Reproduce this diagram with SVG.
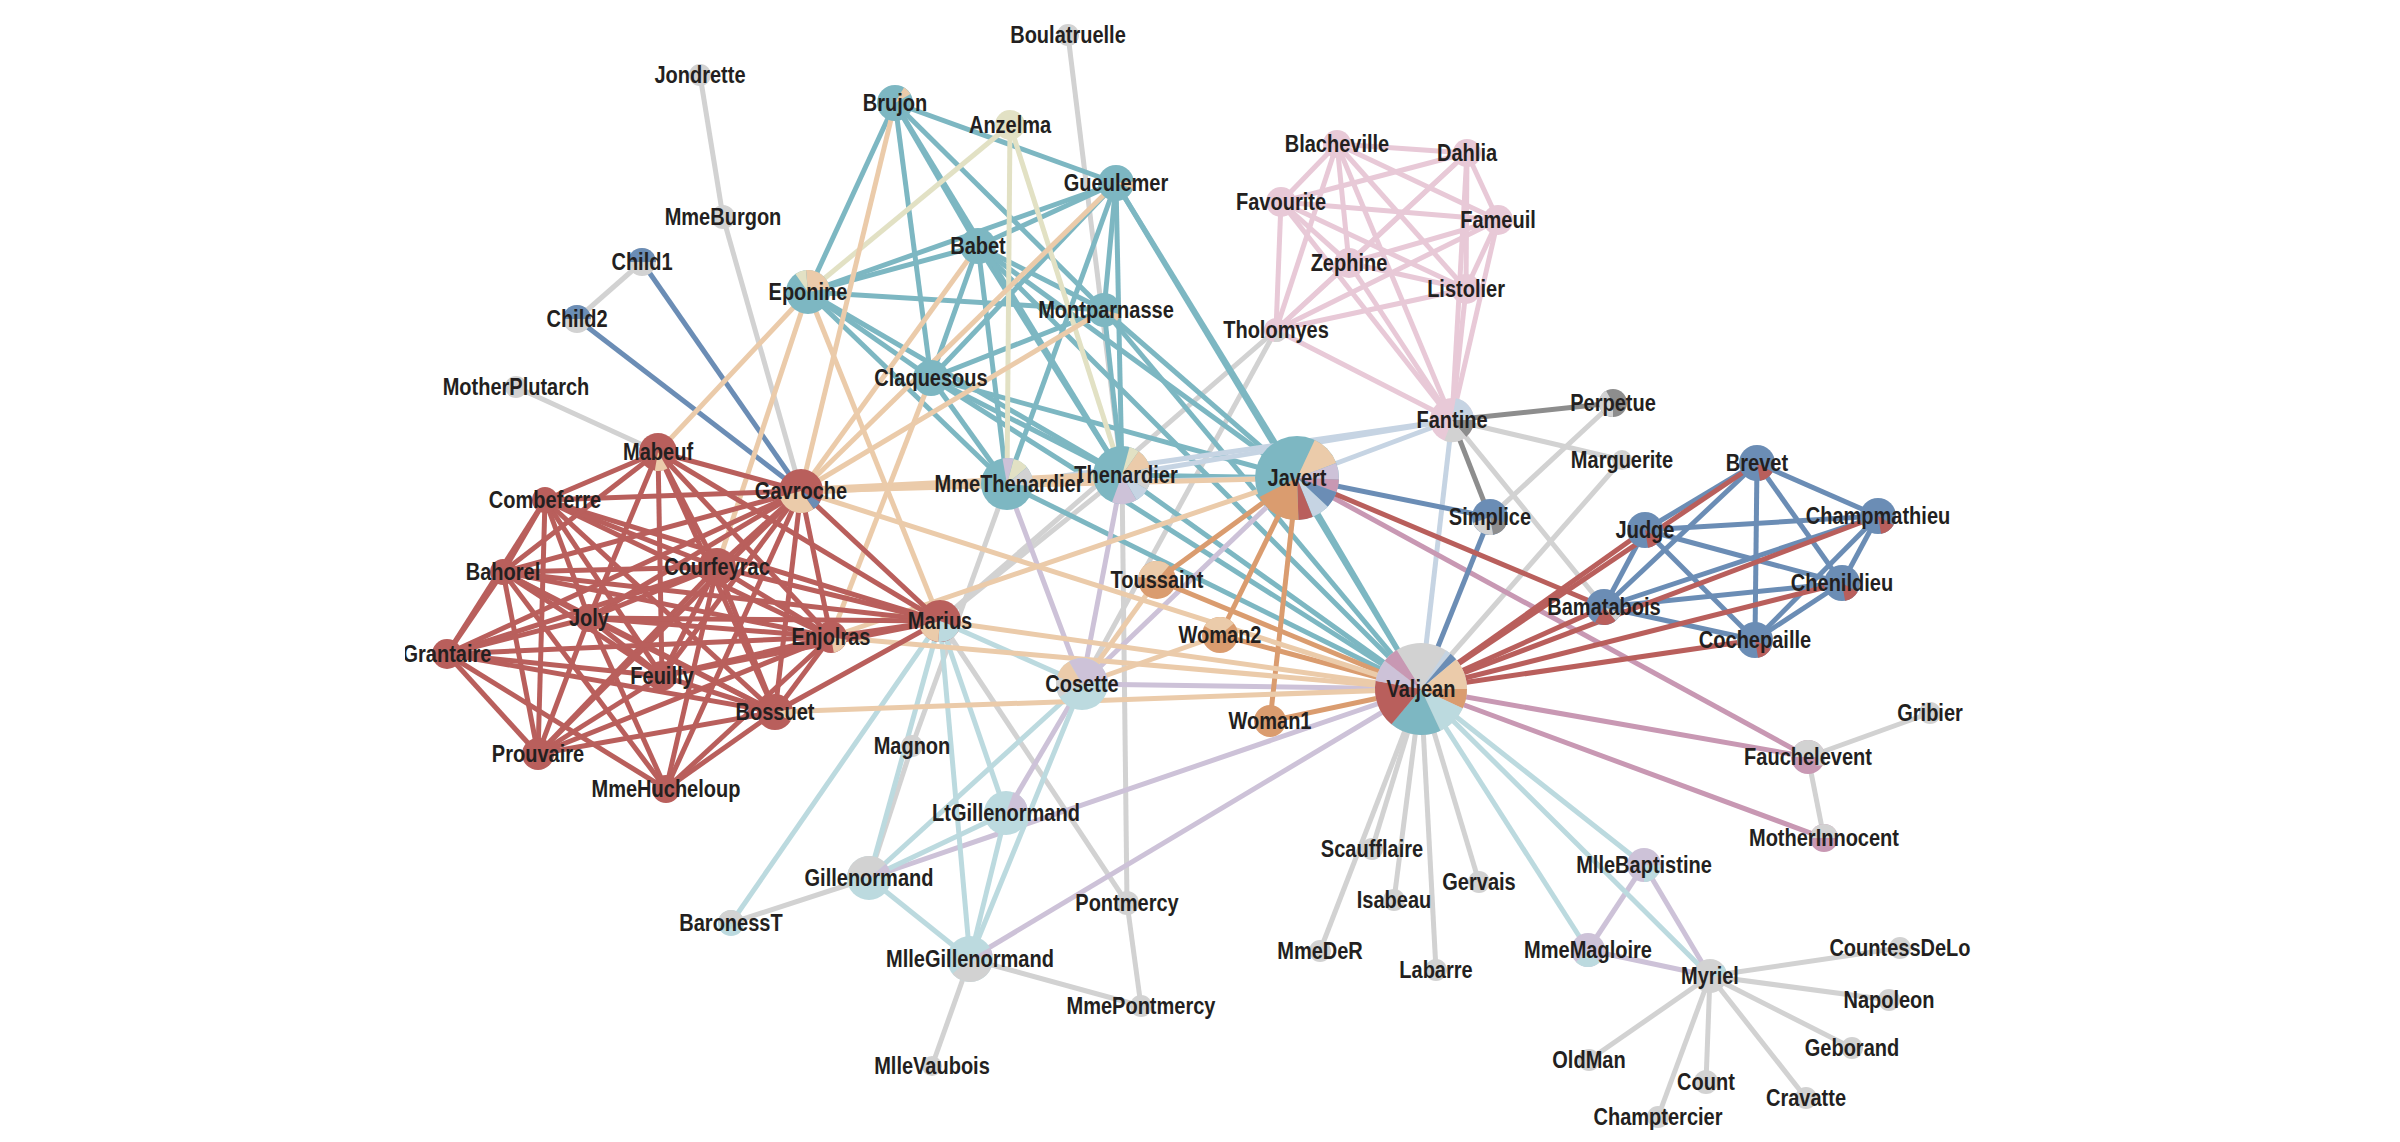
<svg xmlns="http://www.w3.org/2000/svg" width="2400" height="1142" viewBox="0 0 2400 1142">
<defs>
<clipPath id="vp"><rect x="405" y="0" width="1595" height="1142"/></clipPath>
<style>
#links line{stroke-width:5;fill:none}
.eg{stroke:#d2d2d2}.edg{stroke:#8d8d8d}.et{stroke:#7db7c2}.er{stroke:#b95f5c}.ep{stroke:#ebcbaa}.eo{stroke:#da9c6f}.ek{stroke:#e8c9d7}.es{stroke:#c6d4e3}.eb{stroke:#6b8db5}.el{stroke:#cdc2d8}.em{stroke:#c898b3}.elb{stroke:#bcdadf}.ey{stroke:#e2e1c4}
.fg{fill:#d2d2d2}.fdg{fill:#8d8d8d}.ft{fill:#7db7c2}.fr{fill:#b95f5c}.fp{fill:#ebcbaa}.fo{fill:#da9c6f}.fk{fill:#e8c9d7}.fs{fill:#c6d4e3}.fb{fill:#6b8db5}.fl{fill:#cdc2d8}.fm{fill:#c898b3}.flb{fill:#bcdadf}.fy{fill:#e2e1c4}
.pie{fill:none}
text{font-family:"Liberation Sans",Arial,sans-serif;font-weight:700;font-size:23px;fill:#231f20;text-anchor:middle;transform-box:fill-box;transform-origin:center;transform:scaleX(.87)}
</style>
</defs>
<rect width="2400" height="1142" fill="#fff"/>
<g clip-path="url(#vp)">
<g id="links">
<g class="eg">
<line x1="1889" y1="1000" x2="1710" y2="976"/><line x1="1900" y1="948" x2="1710" y2="976"/><line x1="1852" y1="1048" x2="1710" y2="976"/><line x1="1658" y1="1117" x2="1710" y2="976"/><line x1="1806" y1="1098" x2="1710" y2="976"/><line x1="1706" y1="1082" x2="1710" y2="976"/><line x1="1589" y1="1060" x2="1710" y2="976"/>
<line x1="1421" y1="689" x2="1436" y2="970"/><line x1="1622" y1="460" x2="1421" y2="689"/><line x1="1320" y1="951" x2="1421" y2="689"/><line x1="1394" y1="900" x2="1421" y2="689"/><line x1="1479" y1="882" x2="1421" y2="689"/><line x1="1372" y1="849" x2="1421" y2="689"/>
<line x1="1452" y1="420" x2="1622" y2="460"/><line x1="1082" y1="684" x2="1276" y2="330"/><line x1="1604" y1="607" x2="1452" y2="420"/><line x1="1490" y1="517" x2="1613" y2="403"/>
<line x1="1127" y1="903" x2="1122" y2="475"/><line x1="1068" y1="35" x2="1122" y2="475"/><line x1="1824" y1="838" x2="1808" y2="757"/><line x1="1930" y1="713" x2="1808" y2="757"/>
<line x1="723" y1="217" x2="700" y2="75"/><line x1="801" y1="491" x2="723" y2="217"/><line x1="912" y1="746" x2="869" y2="878"/><line x1="912" y1="746" x2="1007" y2="484"/>
<line x1="1141" y1="1006" x2="970" y2="959"/><line x1="1141" y1="1006" x2="1127" y2="903"/><line x1="932" y1="1066" x2="970" y2="959"/>
<line x1="940" y1="621" x2="1127" y2="903"/><line x1="940" y1="621" x2="1276" y2="330"/><line x1="940" y1="621" x2="1122" y2="475"/>
<line x1="731" y1="923" x2="869" y2="878"/><line x1="516" y1="387" x2="658" y2="452"/><line x1="577" y1="319" x2="642" y2="262"/>
</g>
<g class="edg">
<line x1="1613" y1="403" x2="1452" y2="420"/><line x1="1490" y1="517" x2="1452" y2="420"/>
</g>
<g class="ek">
<line x1="1466" y1="289" x2="1276" y2="330"/><line x1="1498" y1="220" x2="1276" y2="330"/><line x1="1498" y1="220" x2="1466" y2="289"/><line x1="1337" y1="144" x2="1276" y2="330"/><line x1="1337" y1="144" x2="1466" y2="289"/><line x1="1337" y1="144" x2="1498" y2="220"/>
<line x1="1281" y1="202" x2="1276" y2="330"/><line x1="1281" y1="202" x2="1466" y2="289"/><line x1="1281" y1="202" x2="1498" y2="220"/><line x1="1281" y1="202" x2="1337" y2="144"/>
<line x1="1467" y1="153" x2="1276" y2="330"/><line x1="1467" y1="153" x2="1466" y2="289"/><line x1="1467" y1="153" x2="1498" y2="220"/><line x1="1467" y1="153" x2="1337" y2="144"/><line x1="1467" y1="153" x2="1281" y2="202"/>
<line x1="1349" y1="263" x2="1276" y2="330"/><line x1="1349" y1="263" x2="1466" y2="289"/><line x1="1349" y1="263" x2="1498" y2="220"/><line x1="1349" y1="263" x2="1337" y2="144"/><line x1="1349" y1="263" x2="1281" y2="202"/><line x1="1349" y1="263" x2="1467" y2="153"/>
<line x1="1452" y1="420" x2="1276" y2="330"/><line x1="1452" y1="420" x2="1466" y2="289"/><line x1="1452" y1="420" x2="1498" y2="220"/><line x1="1452" y1="420" x2="1337" y2="144"/><line x1="1452" y1="420" x2="1281" y2="202"/><line x1="1452" y1="420" x2="1467" y2="153"/><line x1="1452" y1="420" x2="1349" y2="263"/>
</g>
<g class="et">
<line x1="1007" y1="484" x2="1421" y2="689"/><line x1="1122" y1="475" x2="1007" y2="484"/><line x1="1122" y1="475" x2="1421" y2="689"/><line x1="1297" y1="478" x2="1421" y2="689"/><line x1="1297" y1="478" x2="1122" y2="475"/>
<line x1="808" y1="292" x2="1007" y2="484"/><line x1="808" y1="292" x2="1122" y2="475"/>
<line x1="1116" y1="183" x2="1122" y2="475"/><line x1="1116" y1="183" x2="1421" y2="689"/><line x1="1116" y1="183" x2="1007" y2="484"/><line x1="1116" y1="183" x2="1297" y2="478"/><line x1="1116" y1="183" x2="808" y2="292"/>
<line x1="978" y1="246" x2="1122" y2="475"/><line x1="978" y1="246" x2="1116" y2="183"/><line x1="978" y1="246" x2="1421" y2="689"/><line x1="978" y1="246" x2="1007" y2="484"/><line x1="978" y1="246" x2="1297" y2="478"/><line x1="978" y1="246" x2="808" y2="292"/>
<line x1="931" y1="378" x2="1122" y2="475"/><line x1="931" y1="378" x2="978" y2="246"/><line x1="931" y1="378" x2="1116" y2="183"/><line x1="931" y1="378" x2="1421" y2="689"/><line x1="931" y1="378" x2="1007" y2="484"/><line x1="931" y1="378" x2="1297" y2="478"/><line x1="931" y1="378" x2="808" y2="292"/>
<line x1="1104" y1="310" x2="1297" y2="478"/><line x1="1104" y1="310" x2="978" y2="246"/><line x1="1104" y1="310" x2="1116" y2="183"/><line x1="1104" y1="310" x2="931" y2="378"/><line x1="1104" y1="310" x2="1421" y2="689"/><line x1="1104" y1="310" x2="808" y2="292"/><line x1="1104" y1="310" x2="1122" y2="475"/>
<line x1="895" y1="103" x2="978" y2="246"/><line x1="895" y1="103" x2="1116" y2="183"/><line x1="895" y1="103" x2="1122" y2="475"/><line x1="895" y1="103" x2="808" y2="292"/><line x1="895" y1="103" x2="931" y2="378"/><line x1="895" y1="103" x2="1104" y2="310"/>
</g>
<g class="ey">
<line x1="1010" y1="125" x2="808" y2="292"/><line x1="1010" y1="125" x2="1122" y2="475"/><line x1="1010" y1="125" x2="1007" y2="484"/>
</g>
<g class="es">
<line x1="1452" y1="420" x2="1421" y2="689"/><line x1="1007" y1="484" x2="1452" y2="420"/><line x1="1122" y1="475" x2="1452" y2="420"/><line x1="1297" y1="478" x2="1452" y2="420"/><line x1="1297" y1="478" x2="1007" y2="484"/>
</g>
<g class="el">
<line x1="1644" y1="865" x2="1710" y2="976"/><line x1="1588" y1="950" x2="1710" y2="976"/><line x1="1588" y1="950" x2="1644" y2="865"/>
<line x1="1082" y1="684" x2="1007" y2="484"/><line x1="1082" y1="684" x2="1421" y2="689"/><line x1="1082" y1="684" x2="1122" y2="475"/><line x1="1297" y1="478" x2="1082" y2="684"/>
<line x1="869" y1="878" x2="1421" y2="689"/><line x1="970" y1="959" x2="1421" y2="689"/><line x1="1006" y1="813" x2="1082" y2="684"/>
</g>
<g class="elb">
<line x1="1421" y1="689" x2="1588" y2="950"/><line x1="1421" y1="689" x2="1644" y2="865"/><line x1="1421" y1="689" x2="1710" y2="976"/>
<line x1="869" y1="878" x2="1082" y2="684"/><line x1="970" y1="959" x2="869" y2="878"/><line x1="970" y1="959" x2="1082" y2="684"/><line x1="1006" y1="813" x2="970" y2="959"/><line x1="1006" y1="813" x2="869" y2="878"/>
<line x1="940" y1="621" x2="970" y2="959"/><line x1="940" y1="621" x2="869" y2="878"/><line x1="940" y1="621" x2="1006" y2="813"/><line x1="940" y1="621" x2="1082" y2="684"/><line x1="731" y1="923" x2="940" y2="621"/>
</g>
<g class="em">
<line x1="1808" y1="757" x2="1421" y2="689"/><line x1="1808" y1="757" x2="1297" y2="478"/><line x1="1824" y1="838" x2="1421" y2="689"/>
</g>
<g class="eb">
<line x1="1490" y1="517" x2="1421" y2="689"/><line x1="1490" y1="517" x2="1297" y2="478"/>
<line x1="1645" y1="530" x2="1604" y2="607"/><line x1="1878" y1="516" x2="1645" y2="530"/><line x1="1878" y1="516" x2="1604" y2="607"/>
<line x1="1757" y1="463" x2="1645" y2="530"/><line x1="1757" y1="463" x2="1878" y2="516"/><line x1="1757" y1="463" x2="1604" y2="607"/>
<line x1="1842" y1="583" x2="1645" y2="530"/><line x1="1842" y1="583" x2="1878" y2="516"/><line x1="1842" y1="583" x2="1757" y2="463"/><line x1="1842" y1="583" x2="1604" y2="607"/>
<line x1="1755" y1="640" x2="1645" y2="530"/><line x1="1755" y1="640" x2="1878" y2="516"/><line x1="1755" y1="640" x2="1757" y2="463"/><line x1="1755" y1="640" x2="1842" y2="583"/><line x1="1755" y1="640" x2="1604" y2="607"/>
<line x1="642" y1="262" x2="801" y2="491"/><line x1="577" y1="319" x2="801" y2="491"/>
</g>
<g class="eo">
<line x1="1270" y1="721" x2="1421" y2="689"/><line x1="1270" y1="721" x2="1297" y2="478"/><line x1="1220" y1="635" x2="1421" y2="689"/><line x1="1220" y1="635" x2="1297" y2="478"/><line x1="1157" y1="580" x2="1297" y2="478"/><line x1="1157" y1="580" x2="1421" y2="689"/>
</g>
<g class="ep">
<line x1="1220" y1="635" x2="1082" y2="684"/><line x1="1157" y1="580" x2="1082" y2="684"/>
<line x1="801" y1="491" x2="1122" y2="475" style="stroke-width:8"/><line x1="801" y1="491" x2="1297" y2="478"/><line x1="801" y1="491" x2="1421" y2="689"/>
<line x1="940" y1="621" x2="1421" y2="689"/><line x1="940" y1="621" x2="808" y2="292"/><line x1="658" y1="452" x2="808" y2="292"/>
<line x1="831" y1="637" x2="1297" y2="478"/><line x1="831" y1="637" x2="1421" y2="689"/><line x1="775" y1="712" x2="1421" y2="689"/><line x1="717" y1="567" x2="808" y2="292"/>
<line x1="1116" y1="183" x2="801" y2="491"/><line x1="978" y1="246" x2="801" y2="491"/><line x1="931" y1="378" x2="831" y2="637"/><line x1="1104" y1="310" x2="801" y2="491"/><line x1="895" y1="103" x2="801" y2="491"/>
</g>
<g class="er">
<line x1="1604" y1="607" x2="1297" y2="478"/><line x1="1604" y1="607" x2="1421" y2="689"/><line x1="1645" y1="530" x2="1421" y2="689"/><line x1="1878" y1="516" x2="1421" y2="689"/><line x1="1757" y1="463" x2="1421" y2="689"/><line x1="1842" y1="583" x2="1421" y2="689"/><line x1="1755" y1="640" x2="1421" y2="689"/>
<line x1="940" y1="621" x2="801" y2="491"/><line x1="658" y1="452" x2="940" y2="621"/><line x1="658" y1="452" x2="801" y2="491"/>
<line x1="831" y1="637" x2="940" y2="621"/><line x1="831" y1="637" x2="801" y2="491"/><line x1="831" y1="637" x2="658" y2="452"/>
<line x1="545" y1="500" x2="831" y2="637"/><line x1="545" y1="500" x2="940" y2="621"/><line x1="545" y1="500" x2="801" y2="491"/><line x1="545" y1="500" x2="658" y2="452"/>
<line x1="538" y1="754" x2="801" y2="491"/><line x1="538" y1="754" x2="831" y2="637"/><line x1="538" y1="754" x2="545" y2="500"/>
<line x1="662" y1="676" x2="801" y2="491"/><line x1="662" y1="676" x2="831" y2="637"/><line x1="662" y1="676" x2="538" y2="754"/><line x1="662" y1="676" x2="545" y2="500"/><line x1="662" y1="676" x2="658" y2="452"/><line x1="662" y1="676" x2="940" y2="621"/>
<line x1="717" y1="567" x2="940" y2="621"/><line x1="717" y1="567" x2="831" y2="637"/><line x1="717" y1="567" x2="545" y2="500"/><line x1="717" y1="567" x2="801" y2="491"/><line x1="717" y1="567" x2="658" y2="452"/><line x1="717" y1="567" x2="662" y2="676"/><line x1="717" y1="567" x2="538" y2="754"/>
<line x1="503" y1="572" x2="545" y2="500"/><line x1="503" y1="572" x2="801" y2="491"/><line x1="503" y1="572" x2="717" y2="567"/><line x1="503" y1="572" x2="658" y2="452"/><line x1="503" y1="572" x2="831" y2="637"/><line x1="503" y1="572" x2="662" y2="676"/><line x1="503" y1="572" x2="538" y2="754"/><line x1="503" y1="572" x2="940" y2="621"/>
<line x1="775" y1="712" x2="940" y2="621"/><line x1="775" y1="712" x2="717" y2="567"/><line x1="775" y1="712" x2="801" y2="491"/><line x1="775" y1="712" x2="503" y2="572"/><line x1="775" y1="712" x2="831" y2="637"/><line x1="775" y1="712" x2="662" y2="676"/><line x1="775" y1="712" x2="538" y2="754"/><line x1="775" y1="712" x2="545" y2="500"/><line x1="775" y1="712" x2="658" y2="452"/>
<line x1="589" y1="618" x2="503" y2="572"/><line x1="589" y1="618" x2="775" y2="712"/><line x1="589" y1="618" x2="801" y2="491"/><line x1="589" y1="618" x2="717" y2="567"/><line x1="589" y1="618" x2="831" y2="637"/><line x1="589" y1="618" x2="662" y2="676"/><line x1="589" y1="618" x2="538" y2="754"/><line x1="589" y1="618" x2="545" y2="500"/><line x1="589" y1="618" x2="658" y2="452"/><line x1="589" y1="618" x2="940" y2="621"/>
<line x1="447" y1="654" x2="775" y2="712"/><line x1="447" y1="654" x2="831" y2="637"/><line x1="447" y1="654" x2="545" y2="500"/><line x1="447" y1="654" x2="717" y2="567"/><line x1="447" y1="654" x2="589" y2="618"/><line x1="447" y1="654" x2="801" y2="491"/><line x1="447" y1="654" x2="503" y2="572"/><line x1="447" y1="654" x2="662" y2="676"/><line x1="447" y1="654" x2="538" y2="754"/>
<line x1="666" y1="789" x2="775" y2="712"/><line x1="666" y1="789" x2="589" y2="618"/><line x1="666" y1="789" x2="447" y2="654"/><line x1="666" y1="789" x2="503" y2="572"/><line x1="666" y1="789" x2="717" y2="567"/><line x1="666" y1="789" x2="801" y2="491"/><line x1="666" y1="789" x2="831" y2="637"/>
</g>
</g>
<g id="nodes">
<g id="n-Myriel"><circle cx="1710" cy="976" r="17" class="fg"/><circle cx="1710" cy="976" r="8.5" stroke-width="17" class="pie elb" pathLength="100" stroke-dasharray="11.1 200" transform="rotate(-40 1710 976)"/><text x="1710" y="984">Myriel</text></g>
<g id="n-Napoleon"><circle cx="1889" cy="1000" r="11" class="fg"/><text x="1889" y="1008">Napoleon</text></g>
<g id="n-MlleBaptistine"><circle cx="1644" cy="865" r="17" class="fl"/><circle cx="1644" cy="865" r="8.5" stroke-width="17" class="pie elb" pathLength="100" stroke-dasharray="25 200" transform="rotate(0 1644 865)"/><text x="1644" y="873">MlleBaptistine</text></g>
<g id="n-MmeMagloire"><circle cx="1588" cy="950" r="17" class="fl"/><circle cx="1588" cy="950" r="8.5" stroke-width="17" class="pie elb" pathLength="100" stroke-dasharray="25 200" transform="rotate(45 1588 950)"/><text x="1588" y="958">MmeMagloire</text></g>
<g id="n-CountessDeLo"><circle cx="1900" cy="948" r="11" class="fg"/><text x="1900" y="956">CountessDeLo</text></g>
<g id="n-Geborand"><circle cx="1852" cy="1048" r="11" class="fg"/><text x="1852" y="1056">Geborand</text></g>
<g id="n-Champtercier"><circle cx="1658" cy="1117" r="11" class="fg"/><text x="1658" y="1125">Champtercier</text></g>
<g id="n-Cravatte"><circle cx="1806" cy="1098" r="11" class="fg"/><text x="1806" y="1106">Cravatte</text></g>
<g id="n-Count"><circle cx="1706" cy="1082" r="12" class="fg"/><text x="1706" y="1090">Count</text></g>
<g id="n-OldMan"><circle cx="1589" cy="1060" r="11" class="fg"/><text x="1589" y="1068">OldMan</text></g>
<g id="n-Labarre"><circle cx="1436" cy="970" r="11" class="fg"/><text x="1436" y="978">Labarre</text></g>
<g id="n-Valjean"><circle cx="1421" cy="689" r="46" class="fg"/>
<g transform="translate(1421 689)">
<circle r="23" stroke-width="46" class="pie es" pathLength="100" stroke-dasharray="1.9 200" transform="rotate(-57)"/>
<circle r="23" stroke-width="46" class="pie eb" pathLength="100" stroke-dasharray="2.8 200" transform="rotate(-50)"/>
<circle r="23" stroke-width="46" class="pie ep" pathLength="100" stroke-dasharray="11.1 200" transform="rotate(-40)"/>
<circle r="23" stroke-width="46" class="pie eo" pathLength="100" stroke-dasharray="6.9 200" transform="rotate(0)"/>
<circle r="23" stroke-width="46" class="pie elb" pathLength="100" stroke-dasharray="11.1 200" transform="rotate(25)"/>
<circle r="23" stroke-width="46" class="pie et" pathLength="100" stroke-dasharray="18.1 200" transform="rotate(65)"/>
<circle r="23" stroke-width="46" class="pie er" pathLength="100" stroke-dasharray="16.7 200" transform="rotate(130)"/>
<circle r="23" stroke-width="46" class="pie el" pathLength="100" stroke-dasharray="7.8 200" transform="rotate(190)"/>
<circle r="23" stroke-width="46" class="pie em" pathLength="100" stroke-dasharray="5.6 200" transform="rotate(218)"/>
</g><text x="1421" y="697">Valjean</text></g>
<g id="n-Marguerite"><circle cx="1622" cy="460" r="10" class="fg"/><text x="1622" y="468">Marguerite</text></g>
<g id="n-MmeDeR"><circle cx="1320" cy="951" r="11" class="fg"/><text x="1320" y="959">MmeDeR</text></g>
<g id="n-Isabeau"><circle cx="1394" cy="900" r="11" class="fg"/><text x="1394" y="908">Isabeau</text></g>
<g id="n-Gervais"><circle cx="1479" cy="882" r="11" class="fg"/><text x="1479" y="890">Gervais</text></g>
<g id="n-Tholomyes"><circle cx="1276" cy="330" r="12" class="fk"/><circle cx="1276" cy="330" r="6" stroke-width="12" class="pie eg" pathLength="100" stroke-dasharray="22.2 200" transform="rotate(20 1276 330)"/><text x="1276" y="338">Tholomyes</text></g>
<g id="n-Listolier"><circle cx="1466" cy="289" r="15" class="fk"/><text x="1466" y="297">Listolier</text></g>
<g id="n-Fameuil"><circle cx="1498" cy="220" r="15" class="fk"/><text x="1498" y="228">Fameuil</text></g>
<g id="n-Blacheville"><circle cx="1337" cy="144" r="14" class="fk"/><text x="1337" y="152">Blacheville</text></g>
<g id="n-Favourite"><circle cx="1281" cy="202" r="15" class="fk"/><text x="1281" y="210">Favourite</text></g>
<g id="n-Dahlia"><circle cx="1467" cy="153" r="14" class="fk"/><text x="1467" y="161">Dahlia</text></g>
<g id="n-Zephine"><circle cx="1349" cy="263" r="15" class="fk"/><text x="1349" y="271">Zephine</text></g>
<g id="n-Fantine"><circle cx="1452" cy="420" r="22" class="fk"/>
<g transform="translate(1452 420)">
<circle r="11" stroke-width="22" class="pie es" pathLength="100" stroke-dasharray="22.2 200" transform="rotate(-80)"/>
<circle r="11" stroke-width="22" class="pie edg" pathLength="100" stroke-dasharray="13.9 200" transform="rotate(0)"/>
<circle r="11" stroke-width="22" class="pie eg" pathLength="100" stroke-dasharray="16.7 200" transform="rotate(50)"/>
</g><text x="1452" y="428">Fantine</text></g>
<g id="n-Thenardier"><circle cx="1122" cy="475" r="29" class="ft"/>
<g transform="translate(1122 475)">
<circle r="14.5" stroke-width="29" class="pie ey" pathLength="100" stroke-dasharray="5.6 200" transform="rotate(-75)"/>
<circle r="14.5" stroke-width="29" class="pie ep" pathLength="100" stroke-dasharray="11.1 200" transform="rotate(-55)"/>
<circle r="14.5" stroke-width="29" class="pie eg" pathLength="100" stroke-dasharray="12.5 200" transform="rotate(-15)"/>
<circle r="14.5" stroke-width="29" class="pie es" pathLength="100" stroke-dasharray="8.3 200" transform="rotate(30)"/>
<circle r="14.5" stroke-width="29" class="pie el" pathLength="100" stroke-dasharray="13.9 200" transform="rotate(60)"/>
</g><text x="1126" y="483">Thenardier</text></g>
<g id="n-MmeThenardier"><circle cx="1007" cy="484" r="26" class="ft"/>
<g transform="translate(1007 484)">
<circle r="13" stroke-width="26" class="pie el" pathLength="100" stroke-dasharray="6.9 200" transform="rotate(-100)"/>
<circle r="13" stroke-width="26" class="pie ey" pathLength="100" stroke-dasharray="9.7 200" transform="rotate(-75)"/>
<circle r="13" stroke-width="26" class="pie eg" pathLength="100" stroke-dasharray="12.5 200" transform="rotate(-40)"/>
</g><text x="1009" y="492">MmeThenardier</text></g>
<g id="n-Cosette"><circle cx="1082" cy="684" r="26" class="flb"/>
<g transform="translate(1082 684)">
<circle r="13" stroke-width="26" class="pie el" pathLength="100" stroke-dasharray="30.6 200" transform="rotate(-120)"/>
<circle r="13" stroke-width="26" class="pie ep" pathLength="100" stroke-dasharray="12.5 200" transform="rotate(-165)"/>
<circle r="13" stroke-width="26" class="pie eg" pathLength="100" stroke-dasharray="12.5 200" transform="rotate(150)"/>
</g><text x="1082" y="692">Cosette</text></g>
<g id="n-Javert"><circle cx="1297" cy="478" r="42" class="ft"/>
<g transform="translate(1297 478)">
<circle r="21" stroke-width="42" class="pie ep" pathLength="100" stroke-dasharray="12.2 200" transform="rotate(-65)"/>
<circle r="21" stroke-width="42" class="pie el" pathLength="100" stroke-dasharray="6.4 200" transform="rotate(-21)"/>
<circle r="21" stroke-width="42" class="pie em" pathLength="100" stroke-dasharray="5 200" transform="rotate(2)"/>
<circle r="21" stroke-width="42" class="pie eb" pathLength="100" stroke-dasharray="6.4 200" transform="rotate(20)"/>
<circle r="21" stroke-width="42" class="pie es" pathLength="100" stroke-dasharray="6.9 200" transform="rotate(43)"/>
<circle r="21" stroke-width="42" class="pie er" pathLength="100" stroke-dasharray="5.6 200" transform="rotate(68)"/>
<circle r="21" stroke-width="42" class="pie eo" pathLength="100" stroke-dasharray="18.1 200" transform="rotate(88)"/>
</g><text x="1297" y="486">Javert</text></g>
<g id="n-Fauchelevent"><circle cx="1808" cy="757" r="17" class="fm"/><circle cx="1808" cy="757" r="8.5" stroke-width="17" class="pie eg" pathLength="100" stroke-dasharray="50 200" transform="rotate(180 1808 757)"/><text x="1808" y="765">Fauchelevent</text></g>
<g id="n-Bamatabois"><circle cx="1604" cy="607" r="18" class="fb"/>
<g transform="translate(1604 607)">
<circle r="9" stroke-width="18" class="pie eg" pathLength="100" stroke-dasharray="8.3 200" transform="rotate(20)"/>
<circle r="9" stroke-width="18" class="pie er" pathLength="100" stroke-dasharray="19.4 200" transform="rotate(50)"/>
</g><text x="1604" y="615">Bamatabois</text></g>
<g id="n-Perpetue"><circle cx="1613" cy="403" r="14" class="fdg"/><circle cx="1613" cy="403" r="7" stroke-width="14" class="pie eg" pathLength="100" stroke-dasharray="41.7 200" transform="rotate(90 1613 403)"/><text x="1613" y="411">Perpetue</text></g>
<g id="n-Simplice"><circle cx="1490" cy="517" r="18" class="fb"/>
<g transform="translate(1490 517)">
<circle r="9" stroke-width="18" class="pie edg" pathLength="100" stroke-dasharray="16.7 200" transform="rotate(20)"/>
<circle r="9" stroke-width="18" class="pie eg" pathLength="100" stroke-dasharray="22.2 200" transform="rotate(80)"/>
</g><text x="1490" y="525">Simplice</text></g>
<g id="n-Scaufflaire"><circle cx="1372" cy="849" r="11" class="fg"/><text x="1372" y="857">Scaufflaire</text></g>
<g id="n-Woman1"><circle cx="1270" cy="721" r="16" class="fo"/><text x="1270" y="729">Woman1</text></g>
<g id="n-Judge"><circle cx="1645" cy="530" r="18" class="fb"/><circle cx="1645" cy="530" r="9" stroke-width="18" class="pie er" pathLength="100" stroke-dasharray="13.9 200" transform="rotate(30 1645 530)"/><text x="1645" y="538">Judge</text></g>
<g id="n-Champmathieu"><circle cx="1878" cy="516" r="18" class="fb"/><circle cx="1878" cy="516" r="9" stroke-width="18" class="pie er" pathLength="100" stroke-dasharray="13.9 200" transform="rotate(30 1878 516)"/><text x="1878" y="524">Champmathieu</text></g>
<g id="n-Brevet"><circle cx="1757" cy="463" r="18" class="fb"/><circle cx="1757" cy="463" r="9" stroke-width="18" class="pie er" pathLength="100" stroke-dasharray="13.9 200" transform="rotate(30 1757 463)"/><text x="1757" y="471">Brevet</text></g>
<g id="n-Chenildieu"><circle cx="1842" cy="583" r="18" class="fb"/><circle cx="1842" cy="583" r="9" stroke-width="18" class="pie er" pathLength="100" stroke-dasharray="13.9 200" transform="rotate(30 1842 583)"/><text x="1842" y="591">Chenildieu</text></g>
<g id="n-Cochepaille"><circle cx="1755" cy="640" r="18" class="fb"/><circle cx="1755" cy="640" r="9" stroke-width="18" class="pie er" pathLength="100" stroke-dasharray="13.9 200" transform="rotate(30 1755 640)"/><text x="1755" y="648">Cochepaille</text></g>
<g id="n-Pontmercy"><circle cx="1127" cy="903" r="12" class="fg"/><text x="1127" y="911">Pontmercy</text></g>
<g id="n-Boulatruelle"><circle cx="1068" cy="35" r="11" class="fg"/><text x="1068" y="43">Boulatruelle</text></g>
<g id="n-Eponine"><circle cx="808" cy="292" r="22" class="ft"/>
<g transform="translate(808 292)">
<circle r="11" stroke-width="22" class="pie ey" pathLength="100" stroke-dasharray="8.3 200" transform="rotate(-125)"/>
<circle r="11" stroke-width="22" class="pie ep" pathLength="100" stroke-dasharray="23.6 200" transform="rotate(-95)"/>
</g><text x="808" y="300">Eponine</text></g>
<g id="n-Anzelma"><circle cx="1010" cy="125" r="15" class="fy"/><text x="1010" y="133">Anzelma</text></g>
<g id="n-Woman2"><circle cx="1220" cy="635" r="18" class="fo"/><circle cx="1220" cy="635" r="9" stroke-width="18" class="pie ep" pathLength="100" stroke-dasharray="30.6 200" transform="rotate(-150 1220 635)"/><text x="1220" y="643">Woman2</text></g>
<g id="n-MotherInnocent"><circle cx="1824" cy="838" r="14" class="fm"/><circle cx="1824" cy="838" r="7" stroke-width="14" class="pie eg" pathLength="100" stroke-dasharray="50 200" transform="rotate(180 1824 838)"/><text x="1824" y="846">MotherInnocent</text></g>
<g id="n-Gribier"><circle cx="1930" cy="713" r="11" class="fg"/><text x="1930" y="721">Gribier</text></g>
<g id="n-Jondrette"><circle cx="700" cy="75" r="11" class="fg"/><text x="700" y="83">Jondrette</text></g>
<g id="n-MmeBurgon"><circle cx="723" cy="217" r="12" class="fg"/><text x="723" y="225">MmeBurgon</text></g>
<g id="n-Gavroche"><circle cx="801" cy="491" r="22" class="fr"/>
<g transform="translate(801 491)">
<circle r="11" stroke-width="22" class="pie eb" pathLength="100" stroke-dasharray="6.9 200" transform="rotate(30)"/>
<circle r="11" stroke-width="22" class="pie ep" pathLength="100" stroke-dasharray="30.6 200" transform="rotate(55)"/>
</g><text x="801" y="499">Gavroche</text></g>
<g id="n-Gillenormand"><circle cx="869" cy="878" r="22" class="flb"/>
<g transform="translate(869 878)">
<circle r="11" stroke-width="22" class="pie eg" pathLength="100" stroke-dasharray="36.1 200" transform="rotate(-170)"/>
<circle r="11" stroke-width="22" class="pie el" pathLength="100" stroke-dasharray="6.9 200" transform="rotate(-40)"/>
</g><text x="869" y="886">Gillenormand</text></g>
<g id="n-Magnon"><circle cx="912" cy="746" r="11" class="fg"/><text x="912" y="754">Magnon</text></g>
<g id="n-MlleGillenormand"><circle cx="970" cy="959" r="23" class="flb"/>
<g transform="translate(970 959)">
<circle r="11.5" stroke-width="23" class="pie eg" pathLength="100" stroke-dasharray="33.3 200" transform="rotate(20)"/>
<circle r="11.5" stroke-width="23" class="pie el" pathLength="100" stroke-dasharray="5.6 200" transform="rotate(-30)"/>
</g><text x="970" y="967">MlleGillenormand</text></g>
<g id="n-MmePontmercy"><circle cx="1141" cy="1006" r="11" class="fg"/><text x="1141" y="1014">MmePontmercy</text></g>
<g id="n-MlleVaubois"><circle cx="932" cy="1066" r="10" class="fg"/><text x="932" y="1074">MlleVaubois</text></g>
<g id="n-LtGillenormand"><circle cx="1006" cy="813" r="22" class="flb"/><circle cx="1006" cy="813" r="11" stroke-width="22" class="pie el" pathLength="100" stroke-dasharray="16.7 200" transform="rotate(-70 1006 813)"/><text x="1006" y="821">LtGillenormand</text></g>
<g id="n-Marius"><circle cx="940" cy="621" r="21" class="fr"/>
<g transform="translate(940 621)">
<circle r="10.5" stroke-width="21" class="pie elb" pathLength="100" stroke-dasharray="20.8 200" transform="rotate(20)"/>
<circle r="10.5" stroke-width="21" class="pie ep" pathLength="100" stroke-dasharray="19.4 200" transform="rotate(95)"/>
</g><text x="940" y="629">Marius</text></g>
<g id="n-BaronessT"><circle cx="731" cy="923" r="13" class="flb"/><circle cx="731" cy="923" r="6.5" stroke-width="13" class="pie eg" pathLength="100" stroke-dasharray="50 200" transform="rotate(180 731 923)"/><text x="731" y="931">BaronessT</text></g>
<g id="n-Mabeuf"><circle cx="658" cy="452" r="19" class="fr"/><circle cx="658" cy="452" r="9.5" stroke-width="19" class="pie ep" pathLength="100" stroke-dasharray="11.1 200" transform="rotate(60 658 452)"/><text x="658" y="460">Mabeuf</text></g>
<g id="n-Enjolras"><circle cx="831" cy="637" r="16" class="fr"/><circle cx="831" cy="637" r="8" stroke-width="16" class="pie ep" pathLength="100" stroke-dasharray="19.4 200" transform="rotate(10 831 637)"/><text x="831" y="645">Enjolras</text></g>
<g id="n-Combeferre"><circle cx="545" cy="500" r="13" class="fr"/><text x="545" y="508">Combeferre</text></g>
<g id="n-Prouvaire"><circle cx="538" cy="754" r="16" class="fr"/><text x="538" y="762">Prouvaire</text></g>
<g id="n-Feuilly"><circle cx="662" cy="676" r="15" class="fr"/><text x="662" y="684">Feuilly</text></g>
<g id="n-Courfeyrac"><circle cx="717" cy="567" r="19" class="fr"/><text x="717" y="575">Courfeyrac</text></g>
<g id="n-Bahorel"><circle cx="503" cy="572" r="13" class="fr"/><text x="503" y="580">Bahorel</text></g>
<g id="n-Bossuet"><circle cx="775" cy="712" r="18" class="fr"/><circle cx="775" cy="712" r="9" stroke-width="18" class="pie ep" pathLength="100" stroke-dasharray="11.1 200" transform="rotate(-10 775 712)"/><text x="775" y="720">Bossuet</text></g>
<g id="n-Joly"><circle cx="589" cy="618" r="14" class="fr"/><text x="589" y="626">Joly</text></g>
<g id="n-Grantaire"><circle cx="447" cy="654" r="15" class="fr"/><text x="447" y="662">Grantaire</text></g>
<g id="n-MotherPlutarch"><circle cx="516" cy="387" r="11" class="fg"/><text x="516" y="395">MotherPlutarch</text></g>
<g id="n-Gueulemer"><circle cx="1116" cy="183" r="18" class="ft"/><circle cx="1116" cy="183" r="9" stroke-width="18" class="pie ep" pathLength="100" stroke-dasharray="6.9 200" transform="rotate(-5 1116 183)"/><text x="1116" y="191">Gueulemer</text></g>
<g id="n-Babet"><circle cx="978" cy="246" r="18" class="ft"/><text x="978" y="254">Babet</text></g>
<g id="n-Claquesous"><circle cx="931" cy="378" r="18" class="ft"/><text x="931" y="386">Claquesous</text></g>
<g id="n-Montparnasse"><circle cx="1104" cy="310" r="17" class="ft"/><circle cx="1104" cy="310" r="8.5" stroke-width="17" class="pie ep" pathLength="100" stroke-dasharray="6.9 200" transform="rotate(15 1104 310)"/><text x="1106" y="318">Montparnasse</text></g>
<g id="n-Toussaint"><circle cx="1157" cy="580" r="19" class="fo"/><circle cx="1157" cy="580" r="9.5" stroke-width="19" class="pie ep" pathLength="100" stroke-dasharray="33.3 200" transform="rotate(-170 1157 580)"/><text x="1157" y="588">Toussaint</text></g>
<g id="n-Child1"><circle cx="642" cy="262" r="14" class="fg"/><circle cx="642" cy="262" r="7" stroke-width="14" class="pie eb" pathLength="100" stroke-dasharray="50 200" transform="rotate(180 642 262)"/><text x="642" y="270">Child1</text></g>
<g id="n-Child2"><circle cx="577" cy="319" r="14" class="fg"/><circle cx="577" cy="319" r="7" stroke-width="14" class="pie eb" pathLength="100" stroke-dasharray="50 200" transform="rotate(180 577 319)"/><text x="577" y="327">Child2</text></g>
<g id="n-Brujon"><circle cx="895" cy="103" r="18" class="ft"/><circle cx="895" cy="103" r="9" stroke-width="18" class="pie ep" pathLength="100" stroke-dasharray="8.3 200" transform="rotate(-60 895 103)"/><text x="895" y="111">Brujon</text></g>
<g id="n-MmeHucheloup"><circle cx="666" cy="789" r="14" class="fr"/><text x="666" y="797">MmeHucheloup</text></g>
</g>
</g>
</svg>
